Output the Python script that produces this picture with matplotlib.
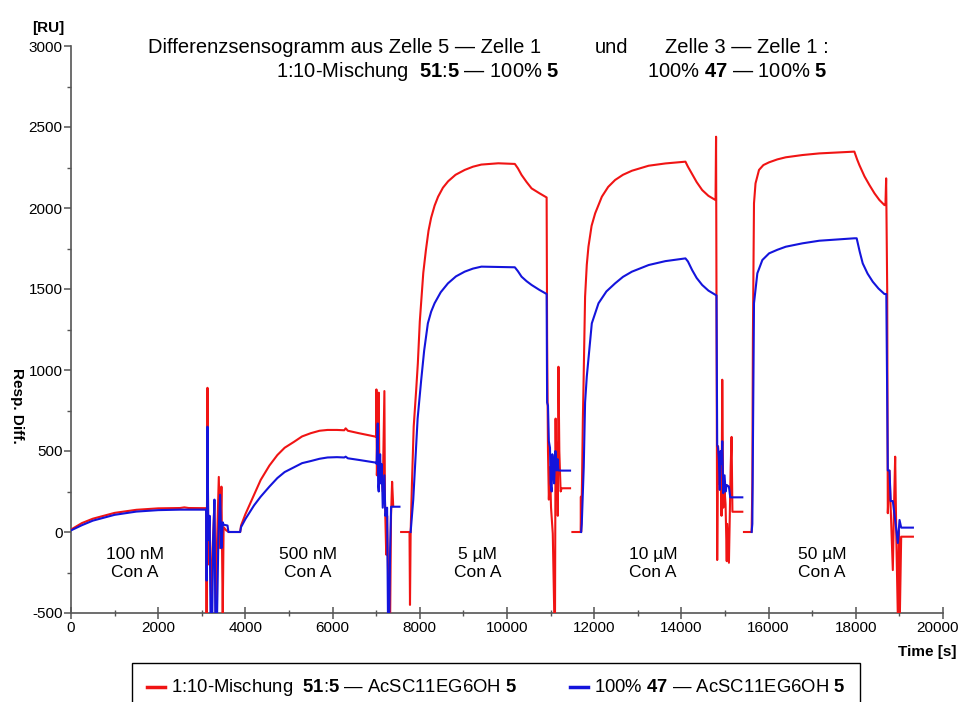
import numpy as np
import matplotlib
matplotlib.use("Agg")
import matplotlib.pyplot as plt
import matplotlib.transforms as mtransforms
from matplotlib.patches import Rectangle
from matplotlib.lines import Line2D
from matplotlib.ticker import MultipleLocator

plt.rcParams["font.family"] = ["Liberation Sans", "DejaVu Sans"]
plt.rcParams["mathtext.fontset"] = "custom"
plt.rcParams["mathtext.rm"] = "Liberation Sans"
plt.rcParams["mathtext.bf"] = "Liberation Sans:bold"
plt.rcParams["axes.unicode_minus"] = False

nan = np.nan

# 1:10-Mischung 51:5 (red), time [s] and response [RU]
red_time = [
    0, 250, 500, 1000, 1500, 2000, 2500, 2600, 2700, 3100,
    3110, 3130, 3150, 3180, 3220, 3250, 3290, 3320, 3350, 3390, 3420, 3450, 3480, 3500, 3560, 3620, 3880,
    3900, 4000, 4200, 4350, 4550, 4733, 4900, 5117, 5300, 5500, 5700, 5884, 6100, 6267, 6300, 6350, 6600, 6997,
    7005, 7015, 7040, 7058, 7075, 7100, 7127, 7150, 7188, 7200, 7230, 7250, 7290, 7320, 7340, 7365, 7390, nan,
    7572, 7764, 7775, 7790, 7820, 7860, 7917, 7955, 8000, 8040, 8080, 8140, 8200, 8260, 8340, 8420, 8530, 8650,
    8820, 9030, 9220, 9410, 9800,
    10180, 10250, 10334, 10450, 10564, 10750, 10909,
    10920, 10940, 10960, 10986, 11010, 11050, 11085, 11101, 11115, 11130, 11150, 11165, 11180, 11200, 11230,
    11254, 11446, nan, 11500, 11690, 11695, 11700,
    11720, 11740, 11753, 11791, 11830, 11868, 11940, 12022, 12176, 12320, 12480, 12660, 12865, 13249, 13632, 14093,
    14150, 14246, 14350, 14476, 14620, 14783,
    14795, 14821, 14840, 14860, 14880, 14898, 14920, 14937, 14960, 14990, 15013, 15040, 15052, 15090, 15130,
    15151, 15170, 15397, nan, 15435, 15611,
    15627, 15640, 15665, 15700, 15780, 15880, 16011, 16200, 16394, 16778, 17162, 17967, 18030, 18082, 18200, 18312,
    18430, 18542, 18657, 18680, 18696,
    18720, 18734, 18773, 18800, 18849, 18880, 18903, 18930, 18964, 18990, 19010, 19041, 19310,
]
red_resp = [
    15, 55, 82, 118, 137, 146, 148, 152, 148, 147,
    -520, 890, -200, 80, -520, -100, 180, -520, -60, 340, -100, 280, -520, 30, 10, 0, 0,
    40, 110, 230, 321, 410, 475, 520, 557, 590, 610, 625, 630, 630, 628, 640, 625, 610, 588,
    880, 350, 500, 860, 300, 400, 320, 250, 870, 200, -140, 100, -520, -520, 100, 310, 160, nan,
    0, 0, -450, 0, 300, 650, 877, 1041, 1300, 1453, 1600, 1740, 1860, 1940, 2015, 2070, 2125, 2165,
    2205, 2235, 2255, 2268, 2276,
    2272, 2245, 2204, 2160, 2121, 2090, 2065,
    1200, 500, 200, 400, 150, -10, -520, -520, 700, 200, 550, 100, 1020, 500, 250,
    270, 270, nan, 0, 0, 218, 0,
    300, 700, 877, 1453, 1650, 1761, 1890, 1967, 2070, 2130, 2173, 2205, 2230, 2261, 2275, 2286,
    2255, 2210, 2160, 2111, 2075, 2049,
    2440, -173, 530, 300, 450, 380, 100, 940, 150, 260, 170, -180, 50, -190, 400,
    587, 125, 125, nan, 0, 0,
    300, 1200, 2029, 2152, 2235, 2265, 2282, 2300, 2313, 2327, 2337, 2348, 2300, 2265, 2195, 2142,
    2090, 2049, 2018, 2018, 2183,
    1500, 116, 379, 150, -235, 200, 465, -49, -520, 12, -520, -29, -29,
]

# 100% 47 (blue)
blue_time = [
    0, 250, 500, 1000, 1500, 2000, 2500, 3100,
    3110, 3130, 3150, 3180, 3200, 3240, 3260, 3290, 3310, 3350, 3380, 3420, 3450, 3480, 3500, 3590, 3610, 3880,
    3900, 4000, 4200, 4350, 4550, 4733, 4900, 5117, 5300, 5500, 5700, 5884, 6100, 6267, 6300, 6350, 6600, 6997,
    7010, 7035, 7045, 7058, 7090, 7110, 7127, 7150, 7188, 7210, 7250, 7270, 7300, 7320, 7342, 7533, nan,
    7790, 7850, 7900, 7950, 8032, 8100, 8185, 8260, 8339, 8480, 8646, 8830, 9029, 9220, 9413, 10180,
    10250, 10334, 10450, 10564, 10740, 10909,
    10920, 10940, 10960, 10986, 11000, 11024, 11040, 11063, 11080, 11110, 11139, 11160, 11178, 11254, 11446, nan,
    11700, 11715, 11760, 11791, 11830, 11945, 12099, 12280, 12480, 12660, 12865, 13249, 13632, 14093, 14150, 14246,
    14350, 14476, 14620, 14783, 14805,
    14821, 14840, 14860, 14880, 14898, 14920, 14937, 14960, 14990, 15013, 15040, 15090, 15120, 15397, nan,
    15611, 15627, 15645, 15665, 15742, 15857, 16011, 16200, 16394, 16778, 17162, 17967, 18020, 18090, 18159, 18270,
    18389, 18520, 18657, 18700,
    18734, 18773, 18800, 18849, 18903, 18964, 19003, 19041, 19310,
]
blue_resp = [
    10, 42, 70, 106, 126, 135, 138, 138,
    -300, 650, -50, 100, -520, -520, -50, 200, -520, -520, -40, 230, -100, 60, 45, 40, 0, 0,
    30, 80, 165, 218, 280, 333, 370, 400, 425, 438, 452, 460, 462, 460, 465, 455, 445, 428,
    420, 670, 280, 250, 480, 300, 420, 150, 350, 100, 150, -520, -520, -100, 156, 156, nan,
    0, 200, 450, 700, 938, 1120, 1288, 1360, 1412, 1480, 1535, 1578, 1607, 1626, 1638, 1634,
    1610, 1576, 1548, 1525, 1495, 1469,
    800, 780, 560, 520, 300, 250, 480, 420, 300, 500, 380, 450, 380, 379, 379, nan,
    0, 50, 400, 800, 959, 1288, 1412, 1485, 1535, 1575, 1607, 1648, 1672, 1689, 1670, 1617,
    1568, 1525, 1490, 1463, 1460,
    537, 520, 450, 260, 500, 420, 560, 240, 350, 250, 290, 280, 214, 214, nan,
    0, 50, 700, 1412, 1597, 1679, 1720, 1742, 1761, 1782, 1798, 1813, 1813, 1730, 1658, 1595,
    1545, 1503, 1469, 1469,
    380, 379, 191, 191, 74, -68, 74, 27, 27,
]

conc_labels = ["100 nM", "500 nM", "5 µM", "10 µM", "50 µM"]
conc_label_x = [1470, 5440, 9330, 13350, 17230]

RED = "#f01414"
BLUE = "#1414dc"
GREY = "#555555"

W, H = 961, 702
fig = plt.figure(figsize=(W / 100, H / 100), dpi=100)
ax = fig.add_axes([71 / W, 1 - 613 / H, (943 - 71) / W, (613 - 46) / H])


def fx(px):
    return px / W


def fy(py):
    return 1 - py / H


ax.plot(red_time, red_resp, color=RED, lw=1.5, zorder=3)
ax.plot(blue_time, blue_resp, color=BLUE, lw=1.5, zorder=3)

ax.set_xlim(0, 20000)
ax.set_ylim(-500, 3000)
for s in ["top", "right"]:
    ax.spines[s].set_visible(False)
for s in ["left", "bottom"]:
    ax.spines[s].set_color(GREY)
    ax.spines[s].set_linewidth(1.2)

ax.set_xticks(np.arange(0, 20001, 2000))
ax.xaxis.set_minor_locator(MultipleLocator(1000))
ax.yaxis.set_major_locator(MultipleLocator(500))
ax.yaxis.set_minor_locator(MultipleLocator(250))
ax.tick_params(axis="x", which="major", direction="inout", length=8, width=1.1, color=GREY,
               labelsize=11, pad=2)
ax.tick_params(axis="x", which="minor", direction="inout", length=5, width=1.0, color=GREY)
ax.tick_params(axis="y", which="major", direction="out", length=5, width=1.1, color=GREY,
               labelsize=11, pad=1)
ax.tick_params(axis="y", which="minor", direction="out", length=3, width=1.0, color=GREY)

# the last x label sits a bit left of its tick, as in the original
last = ax.xaxis.get_major_ticks()[-1].label1
last.set_transform(last.get_transform()
                   + mtransforms.ScaledTranslation(-6 / 100, 0, fig.dpi_scale_trans))

for lab, x in zip(conc_labels, conc_label_x):
    ax.text(x, -195, lab + "\nCon A", ha="center", va="center", fontsize=12.5, linespacing=1.2)

# axis labels
fig.text(fx(48), fy(28), "[RU]", ha="center", va="center", fontsize=11, fontweight="bold")
fig.text(fx(17), fy(406), "Resp. Diff.", ha="center", va="center", rotation=270,
         fontsize=11, fontweight="bold")
fig.text(fx(956), fy(652), "Time [s]", ha="right", va="center", fontsize=11, fontweight="bold")

# title
tfs = 14.5
fig.text(fx(148), fy(53), "Differenzsensogramm aus Zelle 5 — Zelle 1", fontsize=tfs, va="baseline")
fig.text(fx(595), fy(53), "und", fontsize=tfs, va="baseline")
fig.text(fx(665), fy(53), "Zelle 3 — Zelle 1 :", fontsize=tfs, va="baseline")
fig.text(fx(276), fy(77), r"1:10-Mischung  $\mathbf{51}$:$\mathbf{5}$ — 100% $\mathbf{5}$",
         fontsize=tfs, va="baseline")
fig.text(fx(647), fy(77), r"100% $\mathbf{47}$ — 100% $\mathbf{5}$", fontsize=tfs, va="baseline")

# legend box
fig.patches.append(Rectangle((fx(132), fy(720)), fx(860 - 132), (720 - 663) / H,
                             transform=fig.transFigure, fill=False, edgecolor="black", lw=1.0))
fig.lines.append(Line2D([fx(147), fx(165)], [fy(687), fy(687)], transform=fig.transFigure,
                        color=RED, lw=2.5))
fig.lines.append(Line2D([fx(570), fx(588)], [fy(687), fy(687)], transform=fig.transFigure,
                        color=BLUE, lw=2.5))
fig.text(fx(171), fy(688), r"1:10-Mischung  $\mathbf{51}$:$\mathbf{5}$ — AcSC11EG6OH $\mathbf{5}$",
         fontsize=13.3, va="center")
fig.text(fx(594), fy(688), r"100% $\mathbf{47}$ — AcSC11EG6OH $\mathbf{5}$",
         fontsize=13.3, va="center")

fig.savefig("out.png", dpi=100)
